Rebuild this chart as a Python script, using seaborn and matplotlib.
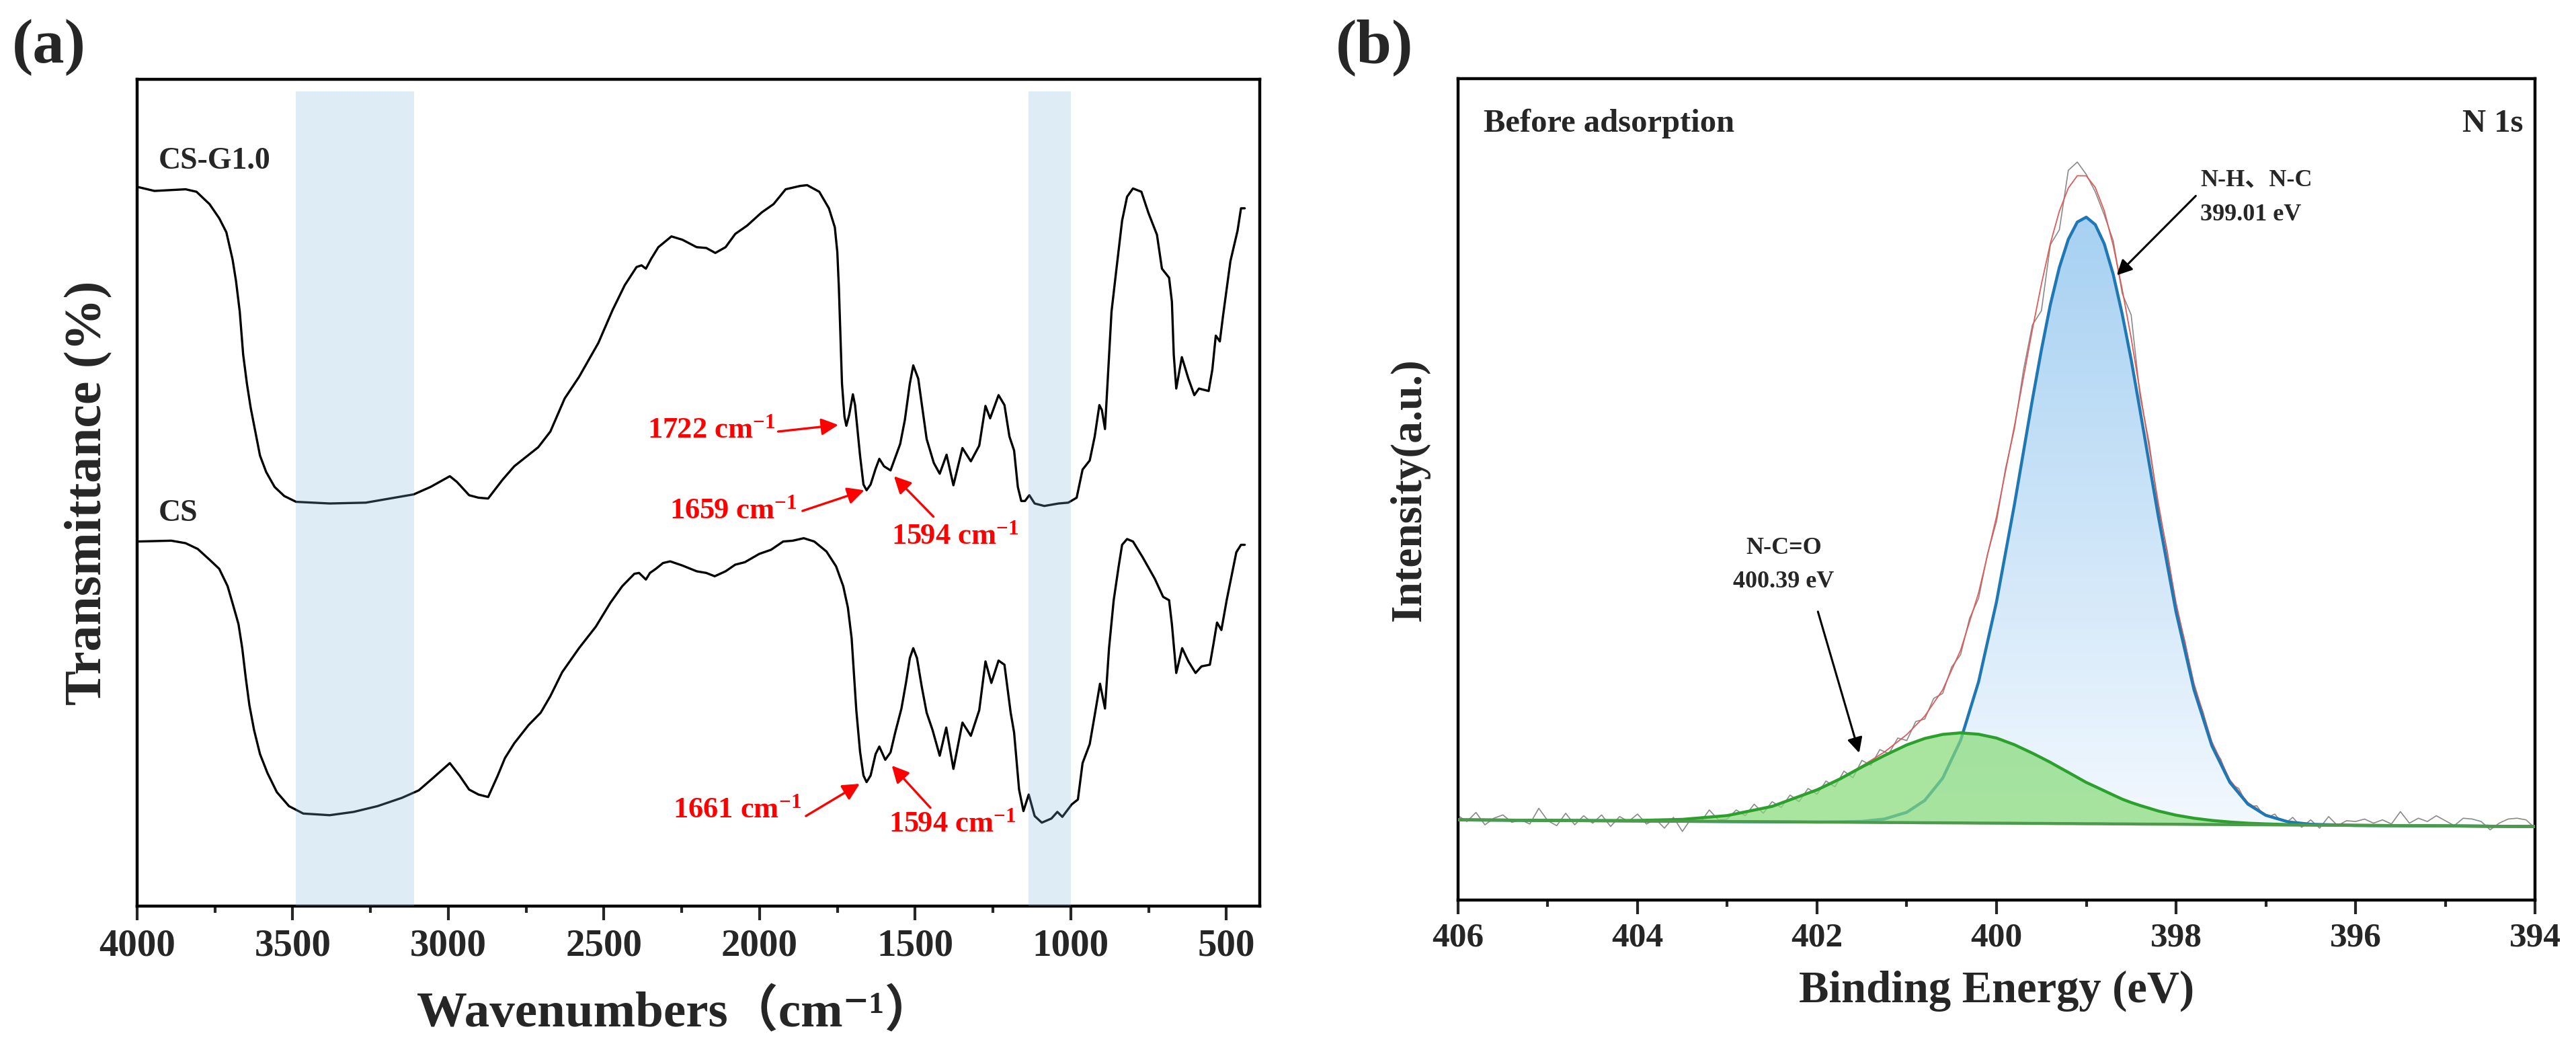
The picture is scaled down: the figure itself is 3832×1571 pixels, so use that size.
import numpy as np
import pandas as pd
import matplotlib
matplotlib.use("Agg")
import matplotlib.pyplot as plt
import seaborn as sns
from matplotlib.colors import LinearSegmentedColormap
from matplotlib.patches import PathPatch
from matplotlib.ticker import MultipleLocator

sns.set_style("ticks")
plt.rcParams['font.family'] = ['Liberation Serif', 'Noto Sans CJK SC', 'DejaVu Serif']
plt.rcParams['font.weight'] = 'bold'
plt.rcParams['axes.labelweight'] = 'bold'
plt.rcParams['axes.unicode_minus'] = True
plt.rcParams['mathtext.fontset'] = 'custom'
plt.rcParams['mathtext.rm'] = 'Liberation Serif:bold'
plt.rcParams['mathtext.bf'] = 'Liberation Serif:bold'
plt.rcParams['mathtext.default'] = 'bf'

# ---------------- (a) FTIR spectra ----------------
wn_csg = [4000, 3944, 3844, 3809, 3767, 3736, 3713, 3693, 3682, 3670, 3659, 3647, 3635, 3620,
          3605, 3585, 3558, 3527, 3489, 3381, 3265, 3188, 3111, 3057, 2995, 2972, 2933, 2903,
          2872, 2825, 2788, 2711, 2672, 2626, 2580, 2518, 2472, 2433, 2395, 2379, 2365, 2348,
          2325, 2283, 2248, 2202, 2171, 2142, 2109, 2078, 2040, 1993, 1955, 1916, 1870, 1847,
          1808, 1777, 1758, 1750, 1745, 1740, 1735, 1727, 1721, 1712, 1700, 1693, 1677, 1666,
          1656, 1643, 1627, 1615, 1600, 1579, 1548, 1533, 1517, 1506, 1490, 1463, 1440, 1421,
          1399, 1377, 1348, 1321, 1294, 1274, 1259, 1232, 1213, 1197, 1182, 1170, 1159, 1147,
          1133, 1116, 1085, 1039, 1008, 981, 962, 939, 923, 908, 900, 890, 881, 869, 854, 835,
          819, 800, 773, 750, 723, 707, 684, 675, 669, 661, 643, 622, 603, 588, 557, 545, 534,
          521, 511, 487, 464, 453, 441]
t_csg = [87.0, 86.5, 86.7, 86.4, 84.9, 83.2, 81.5, 78.2, 75.6, 71.9, 66.7, 63.2, 60.3, 57.4,
         54.5, 52.5, 50.7, 49.6, 48.9, 48.7, 48.8, 49.3, 49.8, 50.7, 52.0, 51.3, 49.7, 49.4,
         49.3, 51.6, 53.2, 55.5, 57.4, 61.4, 64.0, 68.1, 72.1, 75.1, 77.3, 77.5, 77.1, 78.3,
         79.7, 81.0, 80.6, 79.7, 79.6, 79.0, 79.7, 81.3, 82.3, 83.9, 84.9, 86.7, 87.1, 87.2,
         86.4, 84.4, 82.1, 79.1, 74.8, 69.0, 63.2, 59.2, 58.1, 59.4, 61.9, 60.6, 54.5, 51.0,
         50.3, 51.0, 52.9, 54.1, 53.2, 52.7, 55.9, 58.8, 63.2, 65.4, 63.8, 56.5, 53.6, 52.3,
         54.6, 50.9, 55.4, 53.8, 55.7, 60.5, 59.0, 61.8, 60.6, 56.8, 55.1, 50.7, 49.0, 49.0,
         49.7, 48.7, 48.4, 48.7, 48.8, 49.4, 52.8, 53.9, 56.8, 60.6, 60.0, 57.7, 63.8, 71.9, 76.8, 82.9,
         85.8, 86.8, 86.4, 83.8, 81.2, 77.1, 76.0, 73.1, 66.7, 62.6, 66.4, 63.8, 61.8, 62.6, 62.3, 64.9, 69.0,
         68.3, 71.3, 78.0, 81.7, 84.4, 84.4]

wn_cs = [4000, 3890, 3844, 3805, 3767, 3736, 3709, 3689, 3674, 3662, 3651, 3639, 3624, 3605,
         3581, 3551, 3512, 3466, 3381, 3304, 3227, 3149, 3095, 3049, 2995, 2964, 2933, 2903,
         2872, 2841, 2818, 2788, 2742, 2703, 2672, 2634, 2580, 2526, 2479, 2441, 2402, 2387,
         2365, 2352, 2333, 2310, 2287, 2248, 2202, 2171, 2144, 2109, 2078, 2047, 2001, 1963,
         1924, 1893, 1858, 1824, 1785, 1754, 1731, 1716, 1704, 1696, 1689, 1677, 1666, 1656,
         1643, 1627, 1615, 1596, 1579, 1564, 1544, 1529, 1517, 1506, 1494, 1479, 1463, 1444,
         1421, 1400, 1377, 1348, 1321, 1294, 1274, 1255, 1232, 1213, 1193, 1182, 1166, 1152,
         1135, 1116, 1093, 1062, 1043, 1027, 997, 977, 962, 939, 923, 906, 890, 877, 862, 846,
         835, 819, 800, 769, 730, 703, 684, 675, 661, 642, 622, 599, 580, 553, 541, 530, 516,
         499, 468, 453, 441]
t_cs = [44.1, 44.2, 43.9, 43.2, 41.9, 40.8, 38.7, 36.1, 34.1, 31.2, 27.7, 24.3, 21.3, 18.4,
        16.1, 13.8, 12.1, 11.2, 11.0, 11.4, 12.1, 13.1, 14.0, 15.5, 17.3, 15.8, 14.1, 13.5,
        13.2, 15.8, 17.9, 19.7, 21.9, 23.4, 25.4, 28.3, 31.2, 33.8, 36.7, 38.7, 40.2, 40.3,
        39.5, 40.3, 40.8, 41.5, 41.7, 41.2, 40.5, 40.3, 39.9, 40.5, 41.3, 41.6, 42.6, 43.1,
        44.1, 44.2, 44.5, 44.1, 42.9, 41.1, 38.7, 36.1, 32.4, 27.7, 23.7, 18.7, 15.8, 15.0,
        15.8, 18.4, 19.3, 17.7, 18.6, 21.0, 23.9, 27.1, 30.0, 31.2, 30.0, 26.6, 23.4, 21.3,
        18.2, 21.6, 16.6, 22.2, 20.6, 23.7, 29.6, 27.0, 29.7, 29.2, 23.4, 21.0, 14.1, 11.5,
        13.5, 10.9, 10.1, 10.6, 11.4, 10.8, 12.3, 12.9, 17.3, 19.6, 23.1, 26.9, 23.9, 31.2, 37.0, 41.1,
        43.7, 44.4, 44.1, 42.2, 39.6, 37.4, 37.0, 34.1, 28.2, 31.2, 29.6, 28.2, 29.0, 29.2, 31.8, 34.3, 33.4,
        37.0, 42.8, 43.7, 43.7]

bands = [(3490, 3110), (1135, 1000)]

# peak labels: text, text x, text y, arrow tail (x, y), arrow head (x, y), alignment
peaks_a = [
    ("1722 cm$^{-1}$", 1950, 57.5, (1940, 57.4), (1747, 58.2), 'right'),
    ("1659 cm$^{-1}$", 1879, 47.8, (1862, 47.8), (1663, 50.3), 'right'),
    ("1594 cm$^{-1}$", 1577, 44.7, (1441, 47.1), (1568, 52.0), 'left'),
    ("1661 cm$^{-1}$", 1866, 11.6, (1851, 10.9), (1678, 14.8), 'right'),
    ("1594 cm$^{-1}$", 1585, 9.9, (1451, 11.9), (1575, 17.0), 'left'),
]

# ---------------- (b) XPS N 1s ----------------
e_fit = [406.0, 405.5, 405.0, 404.5, 404.0, 403.5, 403.0, 402.5, 402.0, 401.75, 401.5, 401.25,
         401.0, 400.8, 400.6, 400.4, 400.2, 400.0, 399.8, 399.6, 399.5, 399.4, 399.3, 399.2,
         399.1, 399.0, 398.9, 398.8, 398.7, 398.6, 398.5, 398.4, 398.2, 398.0, 397.8, 397.6,
         397.4, 397.2, 397.0, 396.75, 396.5, 396.0, 395.5, 395.0, 394.5, 394.0]
bg = [10.40, 10.37, 10.33, 10.30, 10.27, 10.23, 10.20, 10.17, 10.13, 10.12, 10.10, 10.08,
      10.07, 10.05, 10.04, 10.03, 10.01, 10.00, 9.99, 9.97, 9.97, 9.96, 9.95, 9.95,
      9.94, 9.93, 9.93, 9.92, 9.91, 9.91, 9.90, 9.89, 9.88, 9.87, 9.85, 9.84,
      9.83, 9.81, 9.80, 9.78, 9.77, 9.73, 9.70, 9.67, 9.63, 9.60]
fit_nh = [10.40, 10.37, 10.33, 10.30, 10.27, 10.23, 10.20, 10.17, 10.14, 10.16, 10.22, 10.50,
          11.32, 12.75, 15.44, 20.03, 27.11, 36.80, 48.59, 61.27, 67.27, 72.76, 77.25, 80.65,
          82.74, 83.33, 82.43, 80.12, 76.41, 71.61, 66.10, 59.89, 47.28, 35.57, 26.15, 19.34,
          14.93, 12.31, 10.95, 10.16, 9.87, 9.73, 9.70, 9.67, 9.63, 9.60]
fit_nco = [10.40, 10.37, 10.33, 10.31, 10.33, 10.46, 10.92, 12.03, 14.03, 15.32, 16.80, 18.18,
           19.47, 20.25, 20.74, 20.93, 20.76, 20.30, 19.49, 18.47, 17.92, 17.36, 16.75, 16.15,
           15.54, 14.93, 14.43, 13.92, 13.41, 12.91, 12.50, 12.14, 11.48, 10.97, 10.60, 10.33,
           10.14, 10.00, 9.91, 9.83, 9.79, 9.73, 9.70, 9.67, 9.63, 9.60]

e_raw = [round(406.0 - 0.1 * i, 1) for i in range(121)]
i_raw = [10.9, 10.2, 11.3, 9.8, 10.6, 11.0, 10.1, 10.4, 9.9, 11.8,
         10.3, 9.7, 11.2, 9.8, 10.9, 10.0, 11.0, 9.6, 10.8, 10.2,
         11.1, 9.9, 10.5, 9.4, 10.7, 9.0, 10.6, 10.1, 11.6, 10.4,
         10.5, 11.6, 10.9, 12.3, 11.2, 12.6, 11.9, 13.4, 12.6, 14.2,
         13.5, 15.1, 14.4, 16.3, 15.5, 17.6, 17.0, 18.9, 18.4, 20.3,
         20.0, 22.3, 22.6, 25.1, 25.7, 28.9, 30.4, 34.8, 37.2, 42.6,
         46.5, 52.9, 57.7, 64.8, 70.3, 72.0, 80.0, 81.8, 89.0, 90.0,
         88.5, 86.4, 83.6, 80.5, 74.1, 71.5, 61.6, 56.1, 48.4, 43.1,
         36.2, 32.0, 26.4, 23.5, 19.4, 17.7, 14.8, 14.2, 12.0, 12.1,
         10.6, 11.1, 9.8, 10.7, 9.5, 10.4, 9.4, 10.8, 9.7, 10.3,
         10.2, 10.5, 10.0, 10.4, 9.9, 11.4, 10.0, 10.6, 10.2, 10.9,
         10.3, 9.7, 10.6, 10.5, 10.2, 9.2, 10.0, 10.5, 10.6, 10.4, 9.4]

envelope = [a + b - c for a, b, c in zip(fit_nh, fit_nco, bg)]

df_csg = pd.DataFrame({'wn': wn_csg, 'T': t_csg})
df_cs = pd.DataFrame({'wn': wn_cs, 'T': t_cs})
df_raw = pd.DataFrame({'E': e_raw, 'I': i_raw})
df_fit = pd.DataFrame({'E': e_fit, 'bg': bg, 'nh': fit_nh, 'nco': fit_nco, 'env': envelope})

fig = plt.figure(figsize=(38.32, 15.71), dpi=100)
ax1 = fig.add_axes([0.0532, 0.1419, 0.4358, 0.7830])
ax2 = fig.add_axes([0.5660, 0.1477, 0.4181, 0.7779])

# ---- panel a ----
sns.lineplot(data=df_csg, x='wn', y='T', ax=ax1, color='black', lw=2.4, estimator=None, sort=False)
sns.lineplot(data=df_cs, x='wn', y='T', ax=ax1, color='black', lw=2.4, estimator=None, sort=False)
for lo, hi in bands:
    ax1.axvspan(lo, hi, ymin=0, ymax=0.985, color='#7fb7df', alpha=0.25, lw=0, zorder=3)

ax1.text(3931, 90.1, "CS-G1.0", fontsize=33, fontweight='bold', va='center', ha='left')
ax1.text(3931, 47.5, "CS", fontsize=33, fontweight='bold', va='center', ha='left')
for lab, tx, ty, tail, head, ha in peaks_a:
    ax1.text(tx, ty, lab, color='red', fontsize=32, fontweight='bold', ha=ha, va='center')
    ax1.annotate('', xy=head, xytext=tail,
                 arrowprops=dict(arrowstyle='-|>', color='red', lw=2.4,
                                 mutation_scale=38, shrinkA=0, shrinkB=0))

ax1.set_xlim(4000, 393)
ax1.set_ylim(0, 100)
ax1.xaxis.set_major_locator(MultipleLocator(500))
ax1.xaxis.set_minor_locator(MultipleLocator(250))
ax1.set_xlabel("Wavenumbers（cm⁻¹）", fontsize=54, fontweight='bold')
ax1.xaxis.set_label_coords(0.48, -0.10)
ax1.set_ylabel("Transmittance (%)", fontsize=56, fontweight='bold', labelpad=26)

# ---- panel b ----
sns.lineplot(data=df_raw, x='E', y='I', ax=ax2, color='#8a8a8a', lw=1.2, estimator=None, sort=False, zorder=1)
sns.lineplot(data=df_fit, x='E', y='env', ax=ax2, color='#e05a5a', lw=1.3, estimator=None, sort=False, zorder=2)

poly = ax2.fill_between(e_fit, bg, fit_nh, color='none', lw=0)
cmap = LinearSegmentedColormap.from_list('bl', ['#f2f8fe', '#a6d0f2'])
grad = np.linspace(0, 1, 256).reshape(-1, 1)
im = ax2.imshow(grad, extent=[406, 394, 10, 84], origin='lower', cmap=cmap,
                aspect='auto', zorder=3)
clip = PathPatch(poly.get_paths()[0], transform=ax2.transData, facecolor='none', edgecolor='none')
im.set_clip_path(clip)
sns.lineplot(data=df_fit, x='E', y='nh', ax=ax2, color='#1f78b4', lw=3.2, estimator=None, sort=False, zorder=4)

ax2.fill_between(e_fit, bg, fit_nco, color='#86db77', alpha=0.7, lw=0, zorder=5)
sns.lineplot(data=df_fit, x='E', y='nco', ax=ax2, color='#2ca02c', lw=3.2, estimator=None, sort=False, zorder=6)
sns.lineplot(data=df_fit, x='E', y='bg', ax=ax2, color='#4d9a4d', lw=3.2, estimator=None, sort=False, zorder=6)

ax2.text(0.024, 0.945, "Before adsorption", transform=ax2.transAxes, fontsize=35,
         fontweight='bold', ha='left', va='center')
ax2.text(0.989, 0.945, "N 1s", transform=ax2.transAxes, fontsize=35,
         fontweight='bold', ha='right', va='center')
ax2.text(397.73, 87.8, "N-H、N-C", fontsize=26, fontweight='bold', ha='left', va='center')
ax2.text(397.73, 83.6, "399.01 eV", fontsize=26, fontweight='bold', ha='left', va='center')
ax2.annotate('', xy=(398.66, 76.3), xytext=(397.78, 85.9),
             arrowprops=dict(arrowstyle='-|>', color='black', lw=2.2, mutation_scale=34, shrinkA=0, shrinkB=0))
ax2.text(402.37, 43.3, "N-C=O", fontsize=26, fontweight='bold', ha='center', va='center')
ax2.text(402.37, 39.2, "400.39 eV", fontsize=26, fontweight='bold', ha='center', va='center')
ax2.annotate('', xy=(401.53, 18.5), xytext=(401.99, 35.6),
             arrowprops=dict(arrowstyle='-|>', color='black', lw=2.2, mutation_scale=34, shrinkA=0, shrinkB=0))

ax2.set_xlim(406, 394)
ax2.set_ylim(0.7, 100.1)
ax2.xaxis.set_major_locator(MultipleLocator(2))
ax2.xaxis.set_minor_locator(MultipleLocator(1))
ax2.set_xlabel("Binding Energy (eV)", fontsize=48, fontweight='bold', labelpad=18)
ax2.set_ylabel("Intensity(a.u.)", fontsize=47, fontweight='bold', labelpad=30)

for ax, tsize in ((ax1, 41), (ax2, 37)):
    ax.set_yticks([])
    for s in ax.spines.values():
        s.set_linewidth(3.2)
        s.set_color('black')
    ax.tick_params(axis='x', which='major', direction='out', length=15, width=3, labelsize=tsize, pad=9)
    ax.tick_params(axis='x', which='minor', direction='out', length=7.5, width=3)
    ticks = ax.get_xticks()
    lo, hi = sorted(ax.get_xlim())
    ticks = [t for t in ticks if lo - 1e-6 <= t <= hi + 1e-6]
    ax.set_xticks(ticks)
    ax.set_xticklabels([f"{t:g}" for t in ticks], fontweight='bold', fontsize=tsize)

fig.text(18 / 3832, 1 - 28 / 1571, "(a)", fontsize=68, fontweight='bold', ha='left', va='top')
fig.text(1987 / 3832, 1 - 28 / 1571, "(b)", fontsize=68, fontweight='bold', ha='left', va='top')

fig.savefig("out.png", dpi=100)
